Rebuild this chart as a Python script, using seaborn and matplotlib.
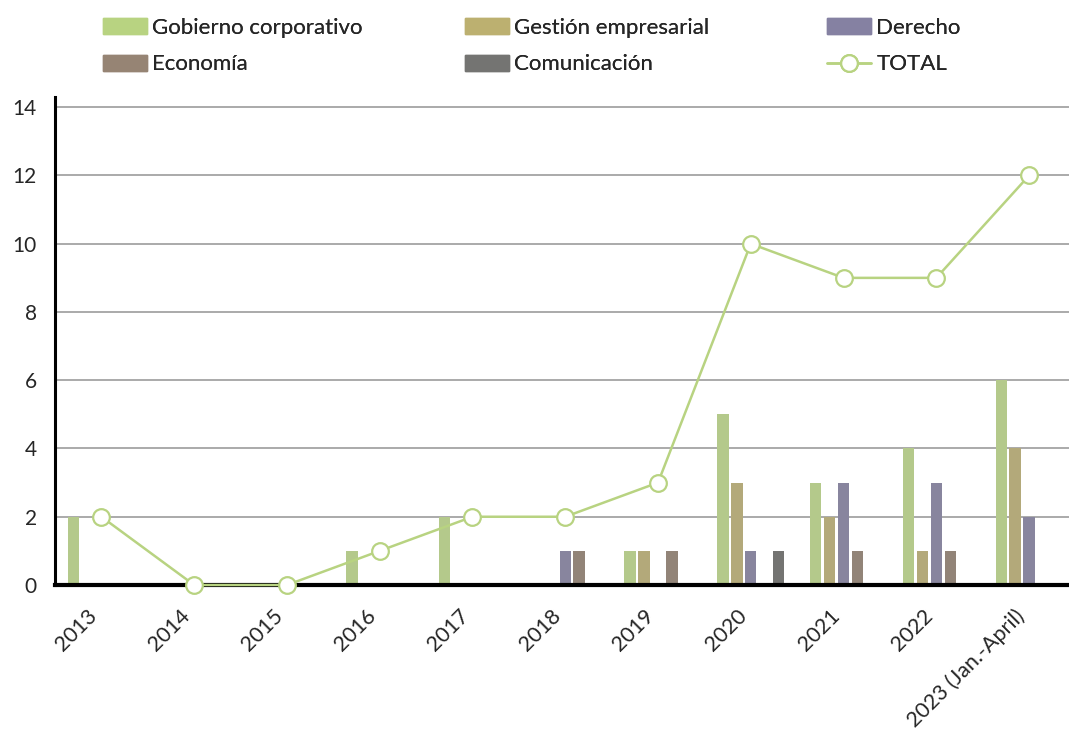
import numpy as np
import pandas as pd
import matplotlib
matplotlib.use('Agg')
import matplotlib.pyplot as plt
import seaborn as sns
from matplotlib.patches import Patch
from matplotlib.lines import Line2D

years = ['2013', '2014', '2015', '2016', '2017', '2018', '2019', '2020', '2021', '2022', '2023 (Jan.-April)']
gobierno = [2, 0, 0, 1, 2, 0, 1, 5, 3, 4, 6]
gestion = [0, 0, 0, 0, 0, 0, 1, 3, 2, 1, 4]
derecho = [0, 0, 0, 0, 0, 1, 0, 1, 3, 3, 2]
economia = [0, 0, 0, 0, 0, 1, 1, 0, 1, 1, 0]
comunicacion = [0, 0, 0, 0, 0, 0, 0, 1, 0, 0, 0]
total = [2, 0, 0, 1, 2, 2, 3, 10, 9, 9, 12]

areas = ['Gobierno corporativo', 'Gestión empresarial', 'Derecho', 'Economía', 'Comunicación']
colors = ['#b8d381', '#bcb070', '#8581a2', '#968474', '#747472']
green = '#b8d381'

# long format for seaborn
df = pd.DataFrame({'Año': years, areas[0]: gobierno, areas[1]: gestion,
                   areas[2]: derecho, areas[3]: economia, areas[4]: comunicacion})
df = df.melt(id_vars='Año', var_name='Área', value_name='n')

sns.set_style('white')
plt.rcParams['font.family'] = ['Lato', 'DejaVu Sans']

fig = plt.figure(figsize=(10.69, 7.29), dpi=100)
ax = fig.add_axes([55/1069, 1-585/729, 1-55/1069, (585-97)/729])

sns.barplot(data=df, x='Año', y='n', hue='Área', order=years, hue_order=areas,
            palette=colors, width=0.75, gap=0.18, linewidth=0, ax=ax, legend=False,
            zorder=3)

# TOTAL line
sns.lineplot(x=np.arange(len(years)), y=total, color=green, linewidth=1.8,
             marker='o', markersize=12, markerfacecolor='white',
             markeredgecolor=green, markeredgewidth=1.6, ax=ax,
             zorder=5, clip_on=False)

ax.set_xlim(-0.5, 10.43)
ax.set_ylim(0, 14.3)
ax.set_yticks(range(0, 15, 2))
ax.yaxis.grid(True, color='#aaaaaa', linewidth=1.4, zorder=0)
ax.set_axisbelow(True)
ax.set_xlabel('')
ax.set_ylabel('')

for s in ['top', 'right']:
    ax.spines[s].set_visible(False)
ax.spines['left'].set_linewidth(2.2)
ax.spines['left'].set_color('black')
ax.spines['bottom'].set_linewidth(3)
ax.spines['bottom'].set_color('black')
ax.spines['bottom'].set_zorder(4)

ax.tick_params(axis='y', length=0, pad=13, labelsize=15)
ax.tick_params(axis='x', length=0, pad=15, labelsize=15.5)
ax.set_xticks(range(len(years)))
ax.set_xticklabels(years, rotation=45, ha='right')

# legend: three columns of two entries each
h = [Patch(color=c) for c in colors]
tot = Line2D([], [], color=green, linewidth=1.8, marker='o', markersize=12,
             markerfacecolor='white', markeredgecolor=green, markeredgewidth=1.6)
cols = [([h[0], h[3]], [areas[0], areas[3]], 103),
        ([h[1], h[4]], [areas[1], areas[4]], 465),
        ([h[2], tot], [areas[2], 'TOTAL'], 827)]
for hh, ll, x0 in cols:
    leg = fig.legend(hh, ll, loc='center left', bbox_to_anchor=(x0/1069, 1-46/729),
                     frameon=False, fontsize=16, handlelength=2.0, handleheight=0.75,
                     handletextpad=0.22, labelspacing=0.76, borderpad=0, borderaxespad=0)
    fig.add_artist(leg)

fig.savefig('out.png', dpi=100)
